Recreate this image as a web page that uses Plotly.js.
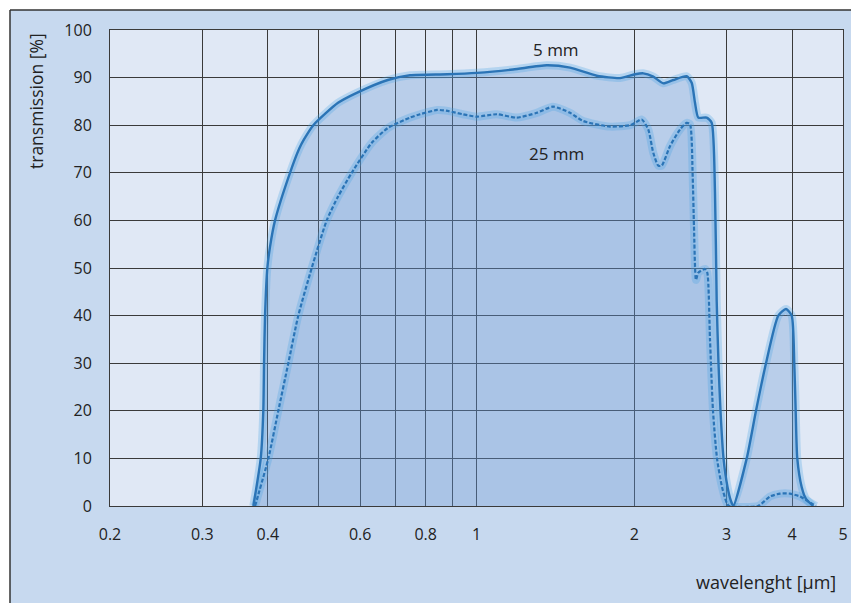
<!DOCTYPE html>
<html>
<head>
<meta charset="utf-8">
<script src="https://cdn.plot.ly/plotly-3.0.1.min.js"></script>
<style>html,body{margin:0;padding:0;background:#fff;}#chart{width:851px;height:603px;}</style>
</head>
<body>
<div id="chart"></div>
<script>
// ---- data ----
const wl5mm = [0.3753,0.3877,0.3921,0.3934,0.3951,0.3991,0.4039,0.4128,0.4409,0.4592,0.4688,0.4884,0.5444,0.5909,0.6772,0.7468,0.8798,1.0021,1.1738,1.3613,1.5082,1.6957,1.8780,2.0057,2.0802,2.1734,2.2712,2.3732,2.5170,2.5728,2.6104,2.6486,2.7480,2.8090,2.8500,2.8714,2.8942,2.9198,2.9586,3.0110,3.0578,3.0888,3.2760,3.4122,3.5654,3.7632,3.8926,3.9912,4.0370,4.0618,4.0904,4.1702,4.2498,4.3882];
const tr5mm = [0,10,20,30,40,50,54.5,60,70,75.1,77,80,84.7,86.8,89.5,90.5,90.7,91.0,91.7,92.6,92.1,90.4,89.9,90.7,90.9,90.2,88.8,89.5,90.3,88.9,84.7,81.6,81.6,80.5,65.9,43,30,20,10,4,1,0,10,20,30,40,41.4,40,30,20,10,4,1.5,0];

const wl25mm = [0.3781,0.4009,0.4188,0.4376,0.4572,0.4850,0.5180,0.5444,0.5781,0.6312,0.6772,0.7468,0.7803,0.8410,0.8814,0.9425,1.0008,1.0929,1.1930,1.3028,1.3996,1.5082,1.5962,1.7972,1.9621,2.0057,2.0656,2.1262,2.1734,2.2218,2.2552,2.3390,2.4440,2.5170,2.5536,2.5840,2.5988,2.6218,2.6486,2.7276,2.7554,2.7882,2.8252,2.8754,2.9392,3.0044,3.0308,3.4422,3.6286,3.7914,3.9614,4.1392,4.2872,4.4404];
const tr25mm = [0,10,20,30,40,50,60,65,70,76.3,79.4,81.6,82.3,83.2,83.0,82.3,81.8,82.3,81.6,82.6,83.9,82.6,80.9,79.7,80.0,80.5,81.2,79.1,74.2,71.5,71.5,75.6,79.1,80.5,80.2,69.3,58.8,47.5,49,49.8,49,35,20,10,4,0.5,0,0,2,2.6,2.6,2,1,0];

const xTickVals = [0.2,0.3,0.4,0.5,0.6,0.7,0.8,0.9,1,2,3,4,5];
const xTickText = ['0.2','0.3','0.4','','0.6','','0.8','','1','2','3','4','5'];
const yTickVals = [0,10,20,30,40,50,60,70,80,90,100];

const labels = {x: 'wavelenght [µm]', y: 'transmission [%]', thin: '5 mm', thick: '25 mm'};

// ---- styling ----
const W = 851, H = 603;
const M = {l: 110, r: 8, t: 30, b: 97};
const PW = W - M.l - M.r, PH = H - M.t - M.b;
const px = v => (v - M.l) / PW;          // pixel -> paper x
const py = v => (H - M.b - v) / PH;      // pixel -> paper y
const FONT = '"Open Sans", "Noto Sans", sans-serif';
const lineCol = '#2b74b6';
const glowCol = 'rgba(70,160,225,0.28)';
const fillCol1 = 'rgba(95,145,210,0.30)';
const fillCol2 = 'rgba(95,145,210,0.16)';
const gridCol = '#3a3a3a';

const traces = [
  {x: wl5mm, y: tr5mm, type: 'scatter', mode: 'lines', fill: 'tozeroy', fillcolor: fillCol1,
   line: {color: glowCol, width: 8, shape: 'spline', smoothing: 0.6}, hoverinfo: 'skip', showlegend: false},
  {x: wl25mm, y: tr25mm, type: 'scatter', mode: 'lines', fill: 'tozeroy', fillcolor: fillCol2,
   line: {color: glowCol, width: 8, shape: 'spline', smoothing: 0.6}, hoverinfo: 'skip', showlegend: false},
  {x: wl5mm, y: tr5mm, type: 'scatter', mode: 'lines', name: labels.thin,
   line: {color: lineCol, width: 2.4, shape: 'spline', smoothing: 0.6}, showlegend: false},
  {x: wl25mm, y: tr25mm, type: 'scatter', mode: 'lines', name: labels.thick,
   line: {color: lineCol, width: 2.2, dash: '4px,2px', shape: 'spline', smoothing: 0.6}, showlegend: false}
];

const layout = {
  width: W, height: H,
  margin: M,
  paper_bgcolor: '#c7d9ef',
  plot_bgcolor: '#e0e8f5',
  font: {family: FONT, size: 16, color: '#222'},
  showlegend: false,
  xaxis: {
    type: 'log', range: [Math.log10(0.2), Math.log10(5)],
    tickmode: 'array', tickvals: xTickVals, ticktext: xTickText,
    showgrid: true, gridcolor: gridCol, gridwidth: 1,
    showline: true, linecolor: gridCol, linewidth: 1, mirror: true,
    ticks: '', ticklabelstandoff: 14, zeroline: false,
    tickfont: {family: FONT, size: 16, color: '#222'}
  },
  yaxis: {
    range: [0, 100], tickmode: 'array', tickvals: yTickVals,
    showgrid: true, gridcolor: gridCol, gridwidth: 1,
    showline: true, linecolor: gridCol, linewidth: 1, mirror: true,
    ticks: '', ticklabelstandoff: 14, zeroline: false,
    tickfont: {family: FONT, size: 16, color: '#222'}
  },
  shapes: [
    {type: 'rect', xref: 'paper', yref: 'paper', x0: px(-5), x1: px(W + 5), y0: py(10), y1: py(-5),
     fillcolor: '#ffffff', line: {width: 0}},
    {type: 'rect', xref: 'paper', yref: 'paper', x0: px(-5), x1: px(10), y0: py(H + 5), y1: py(-5),
     fillcolor: '#ffffff', line: {width: 0}},
    {type: 'line', xref: 'paper', yref: 'paper', x0: px(10), x1: px(W + 5), y0: py(10), y1: py(10),
     line: {color: '#333', width: 1.5}},
    {type: 'line', xref: 'paper', yref: 'paper', x0: px(10), x1: px(10), y0: py(10), y1: py(H + 5),
     line: {color: '#333', width: 1.5}}
  ],
  annotations: [
    {text: labels.y, xref: 'paper', yref: 'paper', x: px(36), y: py(31), xanchor: 'center', yanchor: 'top',
     textangle: -90, showarrow: false, font: {family: FONT, size: 17.5, color: '#222'}},
    {text: labels.x, xref: 'paper', yref: 'paper', x: px(838), y: py(582), xanchor: 'right', yanchor: 'middle',
     showarrow: false, font: {family: FONT, size: 18, color: '#222'}},
    {text: labels.thin, xref: 'paper', yref: 'paper', x: px(556), y: py(50), xanchor: 'center', yanchor: 'middle',
     showarrow: false, font: {family: FONT, size: 17, color: '#222'}},
    {text: labels.thick, xref: 'paper', yref: 'paper', x: px(556), y: py(153), xanchor: 'center', yanchor: 'middle',
     showarrow: false, font: {family: FONT, size: 17, color: '#222'}}
  ]
};

Plotly.newPlot('chart', traces, layout, {displayModeBar: false, staticPlot: true});
</script>
</body>
</html>
